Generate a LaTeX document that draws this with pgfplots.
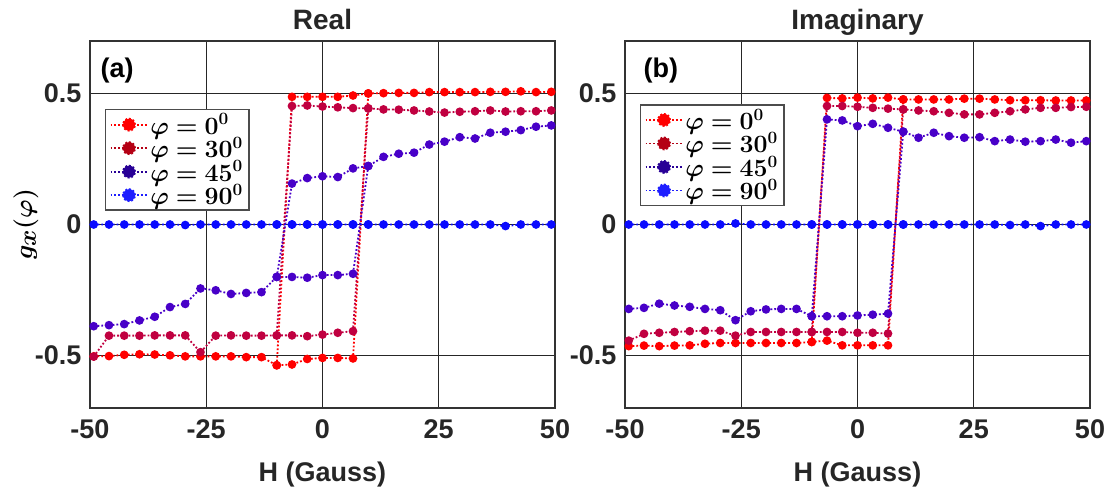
\documentclass[border=0pt]{standalone}
\usepackage{pgfplots}
\pgfplotsset{compat=1.18}
\usepackage{bm}
\usepackage{fontspec}
\setmainfont{Liberation Sans}
\definecolor{c0}{RGB}{255,0,0}
\definecolor{c30}{RGB}{192,0,64}
\definecolor{c45}{RGB}{72,0,200}
\definecolor{c90}{RGB}{10,10,255}
\definecolor{l0}{RGB}{255,0,0}
\definecolor{l30}{RGB}{180,0,20}
\definecolor{l45}{RGB}{40,0,150}
\definecolor{l90}{RGB}{30,30,255}
\pgfplotsset{
  panel/.style={
    scale only axis, width=465pt, height=367pt, anchor=south west,
    xmin=-50, xmax=50, ymin=-0.7, ymax=0.7,
    xtick={-50,-25,0,25,50}, xticklabels={-50,-25,0,25,50},
    ytick={-0.5,0,0.5}, yticklabels={-0.5,0,0.5},
    grid=major, grid style={line width=1.4pt, color=black!85},
    axis line style={line width=1.4pt, color=black!80},
    major tick length=0pt,
    tick label style={font=\fontsize{27}{32}\selectfont\bfseries, text=black!85},
    xticklabel style={yshift=-8pt},
    yticklabel style={xshift=-5pt},
    clip=false,
    legend cell align=left,
    legend style={draw=black!70, line width=1.3pt, font=\fontsize{25}{27}\selectfont,
      inner xsep=4pt, inner ysep=2pt, row sep=-2.5pt, fill=white},
  },
  ser/.style={color=#1, line width=1.8pt, dash pattern=on 1.8pt off 2pt, mark=*, mark size=3.4pt, mark options={solid}},
  leg/.style={legend image code/.code={
      \draw[#1, line width=1.8pt, dash pattern=on 1.8pt off 2pt] (0pt,0pt) -- (37pt,0pt);
      \fill[#1] (18.5pt,0pt) circle (6pt);}},
}
\begin{document}
\begin{tikzpicture}
\path[use as bounding box] (0pt,0pt) rectangle (1115pt,495pt);
% ---------------- (a) Real ----------------
\begin{axis}[panel, at={(90pt,87pt)},
  legend style={at={(0.0323,0.8147)}, anchor=north west}]
\addplot[ser=c0, leg=l0] coordinates {
(-49.2,-0.503)(-45.92,-0.502)(-42.64,-0.497)(-39.36,-0.495)(-36.08,-0.496)(-32.8,-0.499)(-29.52,-0.503)(-26.24,-0.503)(-22.96,-0.503)(-19.68,-0.503)(-16.4,-0.506)(-13.12,-0.506)(-9.84,-0.537)(-6.56,-0.534)(-3.28,-0.513)(0,-0.509)(3.28,-0.509)(6.56,-0.511)
(9.84,0.500)(13.12,0.501)(16.4,0.502)(19.68,0.502)(22.96,0.505)(26.24,0.505)(29.52,0.505)(32.8,0.505)(36.08,0.506)(39.36,0.506)(42.64,0.508)(45.92,0.505)(49.2,0.506)};
\addlegendentry{$\bm{\varphi = 0^0}$}
\addplot[ser=c30, leg=l30] coordinates {
(-49.2,-0.504)(-45.92,-0.424)(-42.64,-0.424)(-39.36,-0.424)(-36.08,-0.423)(-32.8,-0.423)(-29.52,-0.423)(-26.24,-0.487)(-22.96,-0.424)(-19.68,-0.423)(-16.4,-0.424)(-13.12,-0.424)(-9.84,-0.423)(-6.56,-0.423)(-3.28,-0.426)(0,-0.420)(3.28,-0.413)(6.56,-0.407)
(9.84,0.443)(13.12,0.439)(16.4,0.438)(19.68,0.435)(22.96,0.431)(26.24,0.427)(29.52,0.430)(32.8,0.432)(36.08,0.435)(39.36,0.431)(42.64,0.432)(45.92,0.432)(49.2,0.435)};
\addlegendentry{$\bm{\varphi = 30^0}$}
\addplot[ser=c45, leg=l45] coordinates {
(-49.2,-0.388)(-45.92,-0.384)(-42.64,-0.380)(-39.36,-0.366)(-36.08,-0.352)(-32.8,-0.315)(-29.52,-0.303)(-26.24,-0.244)(-22.96,-0.251)(-19.68,-0.265)(-16.4,-0.261)(-13.12,-0.258)(-9.84,-0.200)(-6.56,-0.200)(-3.28,-0.203)(0,-0.193)(3.28,-0.193)(6.56,-0.188)
(9.84,0.223)(13.12,0.258)(16.4,0.270)(19.68,0.274)(22.96,0.305)(26.24,0.316)(29.52,0.333)(32.8,0.328)(36.08,0.350)(39.36,0.354)(42.64,0.360)(45.92,0.373)(49.2,0.378)};
\addlegendentry{$\bm{\varphi = 45^0}$}
\addplot[ser=c90, leg=l90] coordinates {
(-49.2,0)(-45.92,0)(-42.64,0)(-39.36,0)(-36.08,0)(-32.8,0)(-29.52,-0.002)(-26.24,0)(-22.96,0)(-19.68,0)(-16.4,0)(-13.12,0)(-9.84,0)(-6.56,0)(-3.28,0)(0,0)(3.28,0)(6.56,0)
(9.84,0)(13.12,0)(16.4,0)(19.68,0)(22.96,0)(26.24,0)(29.52,0)(32.8,0)(36.08,0)(39.36,-0.006)(42.64,0)(45.92,0)(49.2,0)};
\addlegendentry{$\bm{\varphi = 90^0}$}
% descending branches
\addplot[ser=c0, forget plot] coordinates {(-9.84,-0.537)(-6.56,0.487)(-3.28,0.487)(0,0.487)(3.28,0.487)(6.56,0.492)(9.84,0.500)};
\addplot[ser=c30, forget plot] coordinates {(-9.84,-0.423)(-6.56,0.452)(-3.28,0.454)(0,0.450)(3.28,0.447)(6.56,0.444)(9.84,0.443)};
\addplot[ser=c45, forget plot] coordinates {(-9.84,-0.200)(-6.56,0.156)(-3.28,0.177)(0,0.184)(3.28,0.181)(6.56,0.214)(9.84,0.223)};
\addplot[ser=c90, forget plot] coordinates {(-9.84,0)(-6.56,0)(-3.28,0)(0,0)(3.28,0)(6.56,0)(9.84,0)};
\node[anchor=base, font=\fontsize{28}{32}\selectfont\bfseries, text=black!85] at (rel axis cs:0.5,1) [yshift=11pt] {Real};
\node[anchor=base west, font=\fontsize{27}{32}\selectfont\bfseries] at (rel axis cs:0,1) [xshift=7pt, yshift=-37pt] {(a)};
\node[anchor=base, font=\fontsize{27}{32}\selectfont\bfseries, text=black!85] at (rel axis cs:0.5,0) [yshift=-73pt] {H (Gauss)};
\node[xshift=-64pt, rotate=90, font=\fontsize{33}{36}\selectfont] at (rel axis cs:0,0.5) {$\bm{g_x(\varphi)}$};
\end{axis}
% ---------------- (b) Imaginary ----------------
\begin{axis}[panel, at={(625pt,87pt)},
  legend style={at={(0.0323,0.8275)}, anchor=north west}]
\addplot[ser=c0, leg=l0] coordinates {
(-49.2,-0.464)(-45.92,-0.462)(-42.64,-0.464)(-39.36,-0.462)(-36.08,-0.461)(-32.8,-0.455)(-29.52,-0.452)(-26.24,-0.452)(-22.96,-0.452)(-19.68,-0.452)(-16.4,-0.452)(-13.12,-0.452)(-9.84,-0.448)(-6.56,-0.443)(-3.28,-0.461)(0,-0.461)(3.28,-0.461)(6.56,-0.461)
(9.84,0.477)(13.12,0.477)(16.4,0.477)(19.68,0.477)(22.96,0.480)(26.24,0.480)(29.52,0.477)(32.8,0.474)(36.08,0.474)(39.36,0.474)(42.64,0.473)(45.92,0.473)(49.2,0.473)};
\addlegendentry{$\bm{\varphi = 0^0}$}
\addplot[ser=c30, leg=l30] coordinates {
(-49.2,-0.443)(-45.92,-0.417)(-42.64,-0.413)(-39.36,-0.410)(-36.08,-0.407)(-32.8,-0.405)(-29.52,-0.405)(-26.24,-0.424)(-22.96,-0.410)(-19.68,-0.410)(-16.4,-0.410)(-13.12,-0.410)(-9.84,-0.410)(-6.56,-0.410)(-3.28,-0.410)(0,-0.413)(3.28,-0.413)(6.56,-0.416)
(9.84,0.439)(13.12,0.435)(16.4,0.432)(19.68,0.426)(22.96,0.420)(26.24,0.420)(29.52,0.426)(32.8,0.432)(36.08,0.439)(39.36,0.445)(42.64,0.445)(45.92,0.448)(49.2,0.449)};
\addlegendentry{$\bm{\varphi = 30^0}$}
\addplot[ser=c45, leg=l45] coordinates {
(-49.2,-0.322)(-45.92,-0.318)(-42.64,-0.302)(-39.36,-0.309)(-36.08,-0.314)(-32.8,-0.322)(-29.52,-0.327)(-26.24,-0.365)(-22.96,-0.331)(-19.68,-0.324)(-16.4,-0.322)(-13.12,-0.322)(-9.84,-0.350)(-6.56,-0.350)(-3.28,-0.350)(0,-0.347)(3.28,-0.344)(6.56,-0.340)
(9.84,0.354)(13.12,0.331)(16.4,0.350)(19.68,0.337)(22.96,0.331)(26.24,0.333)(29.52,0.318)(32.8,0.324)(36.08,0.316)(39.36,0.318)(42.64,0.324)(45.92,0.312)(49.2,0.318)};
\addlegendentry{$\bm{\varphi = 45^0}$}
\addplot[ser=c90, leg=l90] coordinates {
(-49.2,0)(-45.92,0)(-42.64,0)(-39.36,0)(-36.08,0)(-32.8,0)(-29.52,0)(-26.24,0.004)(-22.96,0)(-19.68,0)(-16.4,0)(-13.12,0)(-9.84,0)(-6.56,0)(-3.28,0)(0,0)(3.28,0)(6.56,0)
(9.84,0)(13.12,0)(16.4,0)(19.68,0)(22.96,0)(26.24,0)(29.52,0)(32.8,-0.002)(36.08,0)(39.36,-0.006)(42.64,0)(45.92,0)(49.2,0)};
\addlegendentry{$\bm{\varphi = 90^0}$}
\addplot[ser=c0, forget plot] coordinates {(-9.84,-0.448)(-6.56,0.483)(-3.28,0.481)(0,0.484)(3.28,0.481)(6.56,0.484)(9.84,0.477)};
\addplot[ser=c30, forget plot] coordinates {(-9.84,-0.410)(-6.56,0.452)(-3.28,0.452)(0,0.449)(3.28,0.445)(6.56,0.442)(9.84,0.439)};
\addplot[ser=c45, forget plot] coordinates {(-9.84,-0.350)(-6.56,0.401)(-3.28,0.397)(0,0.375)(3.28,0.384)(6.56,0.369)(9.84,0.354)};
\addplot[ser=c90, forget plot] coordinates {(-9.84,0)(-6.56,0)(-3.28,0)(0,0)(3.28,0)(6.56,0)(9.84,0)};
\node[anchor=base, font=\fontsize{28}{32}\selectfont\bfseries, text=black!85] at (rel axis cs:0.5,1) [yshift=11pt] {Imaginary};
\node[anchor=base west, font=\fontsize{27}{32}\selectfont\bfseries] at (rel axis cs:0,1) [xshift=15pt, yshift=-37pt] {(b)};
\node[anchor=base, font=\fontsize{27}{32}\selectfont\bfseries, text=black!85] at (rel axis cs:0.5,0) [yshift=-73pt] {H (Gauss)};
\end{axis}
\end{tikzpicture}
\end{document}
